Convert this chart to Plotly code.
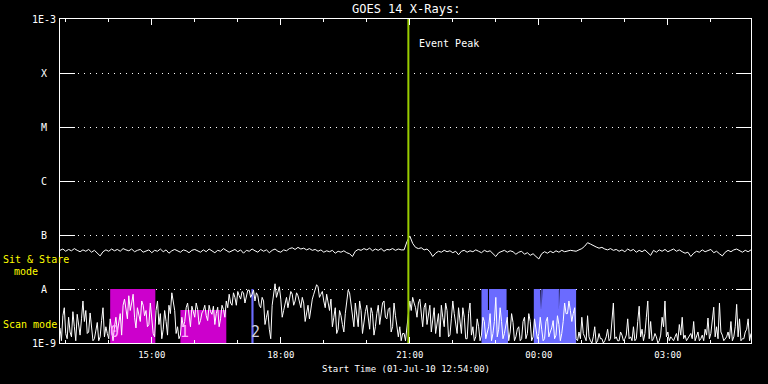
import math
import pandas as pd
import plotly.graph_objects as go

# ---------------- data ----------------
start = "2010-07-01 12:52"
n_pts = 242
times = pd.date_range(start, periods=n_pts, freq="4min")
times_mid = pd.date_range("2010-07-01 12:54", periods=n_pts - 1, freq="4min")

# Sit & Stare channel, units of 1e-8 W/m^2
stare_flux = [
    5.2, 5.5, 5.0, 5.4, 5.1, 5.6, 5.2, 4.9, 5.3, 5.0, 5.4, 4.8, 5.2, 4.6, 4.1, 4.9, 5.3, 5.0, 5.5, 5.1,
    5.4, 5.0, 5.6, 5.3, 5.1, 5.5, 4.9, 5.2, 5.4, 4.8, 5.1, 5.3, 4.7, 5.2, 5.0, 5.5, 4.9, 5.3, 4.6, 5.1,
    5.4, 5.0, 4.8, 5.3, 5.1, 4.7, 5.2, 5.4, 5.0, 4.8, 5.3, 4.9, 5.5, 5.1, 4.7, 5.2, 5.0, 5.6, 5.2, 4.8,
    5.1, 5.4, 4.9, 5.3, 4.6, 5.2, 5.0, 5.5, 5.1, 4.8, 5.4, 5.0, 5.3, 4.7, 5.2, 5.5, 5.0, 4.8, 5.3, 5.1,
    5.6, 5.8, 5.4, 5.9, 5.5, 5.7, 5.3, 5.6, 5.2, 5.4, 5.0, 5.3, 4.8, 5.1, 4.9, 5.2, 4.6, 5.0, 4.8, 5.1,
    4.7, 4.5, 4.0, 5.0, 5.4, 5.2, 5.6, 5.3, 5.7, 5.1, 5.5, 5.2, 5.6, 5.0, 5.4, 5.3, 5.6, 5.2, 5.5, 5.3,
    5.3, 7.5, 9.6, 7.0, 5.9, 5.6, 5.8, 5.3, 5.5, 4.9, 4.0, 4.6, 5.0, 4.8, 5.2, 4.9, 5.1, 4.7, 5.0, 4.3,
    5.0, 5.2, 4.8, 5.1, 4.9, 5.3, 5.0, 4.7, 5.2, 4.9, 5.1, 4.5, 4.0, 4.7, 5.0, 5.2, 4.8, 5.1, 4.9, 4.4,
    4.8, 5.0, 4.4, 4.7, 4.2, 4.5, 4.0, 3.6, 4.5, 4.9, 4.6, 5.0, 4.7, 5.1, 4.8, 5.2, 4.9, 5.0, 5.2, 5.1,
    5.0, 5.3, 5.6, 6.2, 7.2, 6.8, 6.3, 6.0, 5.7, 5.9, 5.5, 5.3, 5.6, 5.2, 5.4, 5.0, 5.3, 4.9, 5.5, 5.1,
    5.4, 4.8, 5.2, 4.9, 5.3, 4.8, 4.2, 5.2, 4.8, 5.3, 5.0, 5.4, 4.9, 5.2, 5.5, 5.0, 5.3, 4.9, 4.6, 4.8,
    4.0, 4.6, 5.0, 4.8, 5.3, 4.9, 5.1, 5.4, 4.7, 5.0, 4.5, 4.1, 4.8, 5.2, 4.9, 5.3, 5.5, 5.1, 4.8, 5.2,
    4.9, 5.3,
]

# Scan channel, units of 1e-9 W/m^2 (samples on the 4-minute marks)
scan_flux = [
    1.9, 3.2, 1.5, 3.0, 1.3, 2.0, 3.4, 1.4, 6.0, 4.0, 1.6, 2.2, 1.2, 2.4, 1.3, 4.5, 2.0, 1.2, 1.5, 2.0,
    1.6, 3.5, 5.0, 4.0, 7.5, 5.5, 3.0, 4.5, 2.5, 5.0, 4.0, 2.2, 3.0, 1.3, 6.0, 3.5, 1.8, 2.5, 5.0, 8.5,
    4.0, 2.0, 1.4, 2.0, 4.5, 3.0, 4.8, 3.0, 4.2, 2.6, 4.0, 3.2, 5.0, 3.4, 2.2, 4.6, 2.8, 4.2, 6.0, 8.0,
    5.0, 7.0, 9.0, 6.5, 8.5, 7.0, 9.5, 8.0, 6.0, 7.5, 4.5, 6.0, 3.0, 1.8, 5.0, 12.5, 9.0, 6.5, 4.0, 7.0,
    6.5, 8.0, 6.0, 7.5, 4.5, 5.5, 3.5, 2.8, 6.5, 9.5, 11.0, 8.0, 6.0, 8.0, 4.0, 2.0, 4.5, 1.8, 3.2, 1.6,
    6.5, 8.5, 3.5, 5.5, 2.0, 4.0, 2.6, 5.0, 1.8, 3.5, 2.0, 5.0, 3.8, 6.0, 2.8, 4.5, 2.0, 3.2, 1.3, 1.1,
    1.5, 2.0, 6.0, 7.0, 4.5, 5.5, 3.5, 4.5, 2.2, 5.0, 3.0, 1.5, 3.5, 5.0, 2.0, 4.0, 1.4, 6.0, 2.5, 4.5,
    1.5, 3.0, 1.2, 5.5, 2.0, 1.3, 2.0, 1.4, 2.5, 1.6, 3.5, 1.5, 7.0, 1.8, 2.5, 1.5, 3.0, 1.6, 2.4, 1.3,
    2.0, 1.2, 3.0, 1.5, 2.5, 1.3, 2.0, 1.5, 1.8, 1.2, 3.0, 1.6, 2.6, 1.4, 2.2, 1.5, 5.5, 3.5, 4.0, 3.5,
    1.2, 1.6, 3.0, 1.3, 3.2, 1.1, 1.3, 1.0, 1.5, 1.2, 1.1, 1.8, 1.2, 5.5, 1.3, 1.1, 1.4, 1.2, 2.8, 1.3,
    2.0, 1.2, 4.8, 1.8, 1.5, 6.0, 2.5, 1.2, 1.3, 1.1, 3.0, 6.0, 1.6, 1.3, 1.1, 1.5, 2.2, 3.0, 1.4, 1.2,
    1.5, 2.5, 1.3, 1.1, 1.4, 1.8, 2.9, 1.5, 4.6, 2.0, 5.5, 1.4, 1.2, 1.6, 2.5, 1.3, 5.2, 2.8, 1.2, 1.6,
    2.8, 1.5,
]

# Scan channel, samples half-way between the 4-minute marks
scan_flux_mid = [
    1.1, 4.5, 1.2, 1.6, 3.8, 1.1, 2.2, 2.8, 2.5, 1.5, 3.6, 1.1, 1.8, 1.1, 2.6, 1.3, 1.5, 2.8, 1.1, 3.0,
    2.5, 1.4, 6.5, 2.8, 4.0, 8.0, 1.9, 3.5, 6.0, 3.2, 2.0, 5.5, 1.5, 4.0, 2.2, 1.2, 4.0, 1.4, 3.5, 5.5,
    1.5, 1.2, 3.0, 2.5, 5.5, 2.0, 3.8, 5.5, 2.2, 3.6, 5.0, 2.6, 3.8, 4.8, 3.5, 2.0, 5.0, 3.0, 4.5, 5.5,
    8.5, 5.0, 7.5, 9.0, 5.5, 9.5, 7.0, 9.5, 8.5, 5.0, 7.0, 2.2, 4.0, 1.2, 8.0, 7.0, 11.0, 3.0, 5.5, 4.5,
    9.0, 5.0, 8.5, 6.0, 7.0, 2.5, 5.0, 4.5, 8.0, 12.0, 7.0, 9.0, 4.5, 5.5, 6.5, 3.0, 1.5, 4.0, 2.2, 3.5,
    9.5, 5.0, 2.0, 3.0, 6.0, 1.5, 3.8, 2.5, 4.5, 1.4, 3.5, 2.2, 5.5, 3.0, 4.2, 1.6, 5.5, 1.8, 2.0, 1.5,
    1.1, 3.5, 4.0, 5.5, 3.0, 6.5, 2.0, 5.5, 3.5, 1.6, 4.5, 2.5, 1.3, 3.0, 5.5, 1.3, 2.8, 3.5, 1.5, 2.5,
    4.5, 1.2, 3.5, 1.4, 1.1, 2.8, 1.1, 3.0, 1.2, 2.0, 1.1, 2.5, 1.3, 4.5, 1.2, 2.2, 1.1, 3.5, 1.1, 1.8,
    1.1, 2.5, 1.2, 3.5, 1.1, 2.8, 1.2, 3.0, 1.1, 2.5, 1.3, 1.9, 1.2, 3.2, 1.1, 2.5, 3.5, 6.0, 2.5, 4.5,
    1.1, 1.2, 1.5, 1.1, 1.3, 1.0, 2.0, 1.1, 1.2, 1.0, 1.3, 1.1, 3.0, 1.2, 1.1, 1.6, 1.1, 1.4, 1.2, 1.1,
    1.1, 2.5, 1.3, 1.1, 3.0, 1.2, 1.1, 1.5, 1.0, 1.4, 2.0, 1.3, 1.1, 1.2, 1.3, 1.1, 1.4, 1.2, 1.1, 1.3,
    1.2, 1.1, 1.6, 1.2, 1.1, 1.4, 1.2, 2.5, 1.3, 1.2, 1.6, 1.1, 1.3, 1.2, 1.1, 2.0, 1.3, 1.1, 1.2, 1.8,
    1.1,
]

# observing-mode blocks: group id, segment start, segment end, upper level (W/m^2)
mode_group = [0, 1, 2,
              3, 3, 3, 3,
              4, 4, 4, 4, 4, 4, 4]
mode_start = ["2010-07-01 14:02", "2010-07-01 15:40", "2010-07-01 17:19",
              "2010-07-01 22:40", "2010-07-01 22:49", "2010-07-01 22:50:30", "2010-07-01 23:15",
              "2010-07-01 23:53", "2010-07-02 00:02", "2010-07-02 00:03", "2010-07-02 00:04",
              "2010-07-02 00:05", "2010-07-02 00:28", "2010-07-02 00:29"]
mode_end = ["2010-07-01 15:05", "2010-07-01 16:44", "2010-07-01 17:22",
            "2010-07-01 22:49", "2010-07-01 22:50:30", "2010-07-01 23:15", "2010-07-01 23:17",
            "2010-07-02 00:02", "2010-07-02 00:03", "2010-07-02 00:04", "2010-07-02 00:05",
            "2010-07-02 00:28", "2010-07-02 00:29", "2010-07-02 00:52"]
mode_top = [1e-8, 4.1e-9, 1e-8,
            1e-8, 4.1e-9, 1e-8, 4.1e-9,
            1e-8, 4.1e-9, 1e-8, 4.1e-9, 1e-8, 4.1e-9, 1e-8]
group_color = ["#cc00cc", "#cc00cc", "#6b6bff", "#6b6bff", "#6b6bff"]

mode_labels = ["0", "1", "2"]
mode_label_time = ["2010-07-01 14:08", "2010-07-01 15:46", "2010-07-01 17:25"]
mode_label_color = ["#ffb0ff", "#ffb0ff", "#d0d0e0"]

event_peak = "2010-07-01 20:58"

class_vals = [1e-9, 1e-8, 1e-7, 1e-6, 1e-5, 1e-4, 1e-3]
class_text = ["1E-9", "A", "B", "C", "M", "X", "1E-3"]

x_range = ["2010-07-01 12:52", "2010-07-02 04:56"]

# ---------------- figure ----------------
MONO = "DejaVu Sans Mono"
fig = go.Figure()

# one step-shaped polygon per observing-mode block
for g, col in enumerate(group_color):
    segs = [(s, e, t) for gg, s, e, t in zip(mode_group, mode_start, mode_end, mode_top) if gg == g]
    xs = [segs[0][0]]
    ys = [1e-9]
    for s, e, t in segs:
        xs += [s, e]
        ys += [t, t]
    xs += [segs[-1][1], segs[0][0]]
    ys += [1e-9, 1e-9]
    fig.add_trace(go.Scatter(x=xs, y=ys, mode="lines", fill="toself", fillcolor=col,
                             line=dict(width=0, color=col), hoverinfo="skip", showlegend=False))

# merge the two scan sample sets into one time-ordered series
scan_df = pd.concat([
    pd.DataFrame({"t": times, "f": scan_flux}),
    pd.DataFrame({"t": times_mid, "f": scan_flux_mid}),
]).sort_values("t")

fig.add_trace(go.Scatter(x=scan_df["t"], y=scan_df["f"] * 1e-9, mode="lines",
                         line=dict(color="white", width=1), showlegend=False))
fig.add_trace(go.Scatter(x=times, y=[v * 1e-8 for v in stare_flux], mode="lines",
                         line=dict(color="white", width=1), showlegend=False))

fig.add_trace(go.Scatter(x=[event_peak, event_peak], y=[1e-9, 1e-3], mode="lines",
                         line=dict(color="#99cc00", width=2), showlegend=False))

ann = []
ann.append(dict(x=event_peak, y=-3.45, xref="x", yref="y", text="Event Peak",
                xanchor="left", yanchor="middle", xshift=9, showarrow=False,
                font=dict(family=MONO, size=10, color="white")))
for t, tt, c in zip(mode_labels, mode_label_time, mode_label_color):
    ann.append(dict(x=tt, y=-8.80, xref="x", yref="y", text=t, showarrow=False,
                    font=dict(family=MONO, size=15, color=c)))
for v, t in zip(class_vals, class_text):
    ann.append(dict(x=(44 - 60) / 691, y=math.log10(v), xref="paper", yref="y", text=t,
                    xanchor="center", yanchor="middle", showarrow=False,
                    font=dict(family=MONO, size=10, color="#ffffff")))


def px_paper_x(px):
    return (px - 60) / 691


def px_paper_y(py):
    return (343 - py) / 324


ann.append(dict(x=px_paper_x(1), y=px_paper_y(259), xref="paper", yref="paper",
                text="Sit & Stare", xanchor="left", yanchor="middle", showarrow=False,
                font=dict(family=MONO, size=10, color="#ffff00")))
ann.append(dict(x=px_paper_x(12), y=px_paper_y(271), xref="paper", yref="paper",
                text="mode", xanchor="left", yanchor="middle", showarrow=False,
                font=dict(family=MONO, size=10, color="#ffff00")))
ann.append(dict(x=px_paper_x(1), y=px_paper_y(324), xref="paper", yref="paper",
                text="Scan mode", xanchor="left", yanchor="middle", showarrow=False,
                font=dict(family=MONO, size=10, color="#ffff00")))
ann.append(dict(x=0.5, y=px_paper_y(9), xref="paper", yref="paper",
                text="GOES 14 X-Rays:", xanchor="center", yanchor="middle", showarrow=False,
                font=dict(family=MONO, size=12, color="white")))
ann.append(dict(x=0.5, y=px_paper_y(369), xref="paper", yref="paper",
                text="Start Time (01-Jul-10 12:54:00)", xanchor="center", yanchor="middle",
                showarrow=False, font=dict(family=MONO, size=9, color="white")))

fig.update_layout(
    width=768, height=384,
    margin=dict(l=60, r=17, t=19, b=41),
    paper_bgcolor="black", plot_bgcolor="black",
    showlegend=False, annotations=ann,
    xaxis=dict(type="date", range=x_range, showgrid=False, zeroline=False,
               showline=True, linecolor="white", linewidth=1, mirror="ticks",
               ticks="inside", ticklen=6, tickcolor="white", tickwidth=1,
               dtick=3 * 3600000, tick0="2010-07-01 00:00", tickformat="%H:%M",
               ticklabelstandoff=3,
               tickfont=dict(family=MONO, size=9, color="white"),
               minor=dict(dtick=3600000, tick0="2010-07-01 00:00", ticks="inside",
                          ticklen=3, tickcolor="white", showgrid=False)),
    yaxis=dict(type="log", range=[-9, -3], showline=True, linecolor="white", linewidth=1,
               mirror="ticks", ticks="inside", ticklen=15, tickcolor="white", tickwidth=1,
               tickvals=class_vals, showticklabels=False, zeroline=False,
               showgrid=True, gridcolor="white", gridwidth=1, griddash="1px,5px"),
)

fig.write_html("out.html", config={"displayModeBar": False},
               post_script="document.body.style.margin='0';document.body.style.overflow='hidden';")
